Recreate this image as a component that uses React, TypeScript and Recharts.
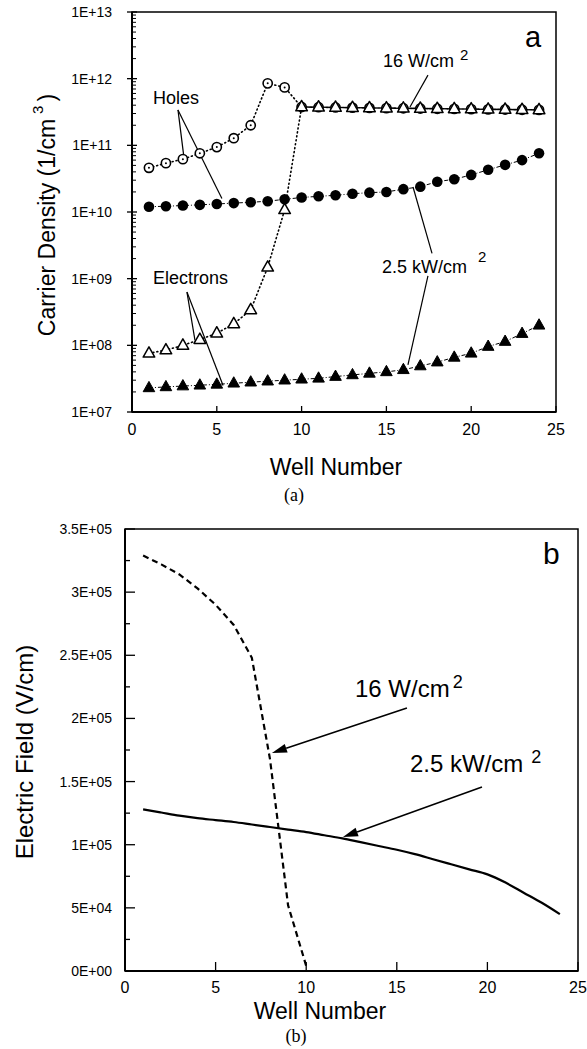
import React from 'react';
import { LineChart, Line, XAxis, YAxis, ReferenceLine, ReferenceArea } from 'recharts';

// ---------- data ----------
const wells = [1, 2, 3, 4, 5, 6, 7, 8, 9, 10, 11, 12, 13, 14, 15, 16, 17, 18, 19, 20, 21, 22, 23, 24];

// Panel (a): carrier density (1/cm^3)
const holes16W = [4.6e10, 5.4e10, 6.2e10, 7.6e10, 9.4e10, 1.28e11, 2.0e11, 8.5e11, 7.4e11, 3.76e11, 3.73e11, 3.7e11, 3.67e11, 3.64e11, 3.62e11, 3.6e11, 3.57e11, 3.54e11, 3.52e11, 3.5e11, 3.47e11, 3.45e11, 3.42e11, 3.4e11];
const electrons16W = [7.6e7, 8.5e7, 1.0e8, 1.22e8, 1.52e8, 2.1e8, 3.4e8, 1.48e9, 1.08e10, 3.76e11, 3.73e11, 3.7e11, 3.67e11, 3.64e11, 3.62e11, 3.6e11, 3.57e11, 3.54e11, 3.52e11, 3.5e11, 3.47e11, 3.45e11, 3.42e11, 3.4e11];
const holes25kW = [1.2e10, 1.22e10, 1.25e10, 1.28e10, 1.32e10, 1.36e10, 1.4e10, 1.45e10, 1.55e10, 1.65e10, 1.72e10, 1.78e10, 1.88e10, 1.95e10, 2.0e10, 2.2e10, 2.4e10, 2.85e10, 3.1e10, 3.6e10, 4.3e10, 5.1e10, 6.0e10, 7.6e10];
const electrons25kW = [2.3e7, 2.38e7, 2.45e7, 2.52e7, 2.6e7, 2.7e7, 2.8e7, 2.9e7, 3.0e7, 3.1e7, 3.2e7, 3.4e7, 3.6e7, 3.8e7, 4.0e7, 4.3e7, 4.9e7, 5.6e7, 6.6e7, 7.6e7, 9.6e7, 1.14e8, 1.5e8, 2.0e8];

// Panel (b): electric field (V/cm)
const field16W = [3.29e5, 3.22e5, 3.14e5, 3.03e5, 2.9e5, 2.74e5, 2.48e5, 1.68e5, 5.2e4, 4e3];
const field25kW = [1.28e5, 1.255e5, 1.23e5, 1.21e5, 1.195e5, 1.18e5, 1.16e5, 1.14e5, 1.12e5, 1.1e5, 1.075e5, 1.05e5, 1.02e5, 0.99e5, 0.96e5, 0.925e5, 0.885e5, 0.845e5, 0.805e5, 0.765e5, 0.7e5, 0.62e5, 0.54e5, 0.45e5];

// ticks
const wellTicks = [0, 5, 10, 15, 20, 25];
const densityMajorTicks = [1e7, 1e8, 1e9, 1e10, 1e11, 1e12, 1e13];
const minorMultipliers = [2, 3, 4, 5, 6, 7, 8, 9];
const densityTicks = [
  ...densityMajorTicks,
  ...densityMajorTicks.slice(0, -1).flatMap((d) => minorMultipliers.map((m) => d * m)),
].sort((a, b) => a - b);
const fieldTicks = [0, 25000, 50000, 75000, 100000, 125000, 150000, 175000, 200000, 225000, 250000, 275000, 300000, 325000, 350000];
const fieldLabelStep = 50000;

const topData = wells.map((w, i) => ({
  well: w,
  h16: holes16W[i],
  e16: electrons16W[i],
  h25: holes25kW[i],
  e25: electrons25kW[i],
}));
const bottomData = wells.map((w, i) => ({
  well: w,
  f16: i < field16W.length ? field16W[i] : null,
  f25: field25kW[i],
}));

// annotation leader lines (data coordinates)
const topLeaders = [
  { from: { x: 2.71, y: 3.4e11 }, to: { x: 3.05, y: 7.0e10 } },
  { from: { x: 2.71, y: 3.4e11 }, to: { x: 5.3, y: 1.6e10 } },
  { from: { x: 3.24, y: 6.3e8 }, to: { x: 3.71, y: 1.2e8 } },
  { from: { x: 3.24, y: 6.3e8 }, to: { x: 5.37, y: 2.5e7 } },
  { from: { x: 17.45, y: 1.13e12 }, to: { x: 16.39, y: 3.76e11 } },
  { from: { x: 17.69, y: 2.4e9 }, to: { x: 16.57, y: 2.37e10 } },
  { from: { x: 17.45, y: 1.1e9 }, to: { x: 16.27, y: 5.1e7 } },
];
const bottomArrows = [
  { from: { x: 15.56, y: 2.083e5 }, to: { x: 8.11, y: 1.726e5 } },
  { from: { x: 19.7, y: 1.457e5 }, to: { x: 12.03, y: 1.061e5 } },
];

// ---------- rendering helpers ----------
const FONT = '"Liberation Sans", Arial, Helvetica, sans-serif';

const expLabel = (v: number) => {
  const e = Math.round(Math.log10(v));
  return `1E+${String(e).padStart(2, '0')}`;
};
const isMajorDensity = (v: number) => densityMajorTicks.some((d) => Math.abs(d - v) / d < 1e-6);

const fieldLabel = (v: number) => {
  if (v === 0) return '0E+00';
  const e = Math.floor(Math.log10(v) + 1e-9);
  const m = Math.round((v / Math.pow(10, e)) * 100) / 100;
  return `${m}E+${String(e).padStart(2, '0')}`;
};

const DensityTick = (props: any) => {
  const { x, y, payload } = props;
  const v = payload.value;
  const ax = x + 20;
  if (isMajorDensity(v)) {
    return (
      <g>
        <line x1={ax - 5} x2={ax + 5} y1={y} y2={y} stroke="#000" strokeWidth={1.3} />
        <text x={x} y={y} textAnchor="end" dominantBaseline="central" fontSize={14} fontFamily={FONT} fill="#000">
          {expLabel(v)}
        </text>
      </g>
    );
  }
  return <line x1={ax} x2={ax + 4} y1={y} y2={y} stroke="#000" strokeWidth={1} />;
};

const FieldTick = (props: any) => {
  const { x, y, payload } = props;
  const v = payload.value;
  const ax = x + 13;
  const major = v % fieldLabelStep === 0;
  return (
    <g>
      <line x1={ax} x2={ax + (major ? 10 : 5)} y1={y} y2={y} stroke="#000" strokeWidth={1.3} />
      {major && (
        <text x={x} y={y} textAnchor="end" dominantBaseline="central" fontSize={14} fontFamily={FONT} fill="#000">
          {fieldLabel(v)}
        </text>
      )}
    </g>
  );
};

const makeWellTick = (gap: number, len: number, size: number) => (props: any) => {
  const { x, y, payload } = props;
  const ay = y - gap;
  return (
    <g>
      <line x1={x} x2={x} y1={ay} y2={ay - len} stroke="#000" strokeWidth={1.3} />
      <text x={x} y={y} textAnchor="middle" fontSize={size} fontFamily={FONT} fill="#000">
        {payload.value}
      </text>
    </g>
  );
};
const TopWellTick = makeWellTick(23, 6, 16);
const BottomWellTick = makeWellTick(22, 9, 16);

const OpenCircle = (p: any) => {
  if (p.cx == null || p.cy == null) return <g key={p.index} />;
  return (
    <g key={`oc-${p.index}`}>
      <circle cx={p.cx} cy={p.cy} r={4.6} fill="#fff" stroke="#000" strokeWidth={1.6} />
      <circle cx={p.cx} cy={p.cy} r={1} fill="#000" />
    </g>
  );
};
const FilledCircle = (p: any) => {
  if (p.cx == null || p.cy == null) return <g key={p.index} />;
  return <circle key={`fc-${p.index}`} cx={p.cx} cy={p.cy} r={5.3} fill="#000" />;
};
const triPoints = (cx: number, cy: number) =>
  `${cx},${cy - 6.5} ${cx - 5.8},${cy + 3.8} ${cx + 5.8},${cy + 3.8}`;
const OpenTriangle = (p: any) => {
  if (p.cx == null || p.cy == null) return <g key={p.index} />;
  return (
    <polygon key={`ot-${p.index}`} points={triPoints(p.cx, p.cy)} fill="#fff" stroke="#000" strokeWidth={1.5} strokeLinejoin="round" />
  );
};
const FilledTriangle = (p: any) => {
  if (p.cx == null || p.cy == null) return <g key={p.index} />;
  return <polygon key={`ft-${p.index}`} points={triPoints(p.cx, p.cy)} fill="#000" stroke="#000" strokeWidth={1} strokeLinejoin="round" />;
};

const ArrowShape = (props: any) => {
  const { x1, y1, x2, y2 } = props;
  const dx = x2 - x1;
  const dy = y2 - y1;
  const L = Math.sqrt(dx * dx + dy * dy) || 1;
  const ux = dx / L;
  const uy = dy / L;
  const len = 15;
  const hw = 4.5;
  const bx = x2 - ux * len;
  const by = y2 - uy * len;
  const pts = `${x2},${y2} ${bx - uy * hw},${by + ux * hw} ${bx + uy * hw},${by - ux * hw}`;
  return (
    <g>
      <line x1={x1} y1={y1} x2={bx} y2={by} stroke="#000" strokeWidth={1.6} />
      <polygon points={pts} fill="#000" />
    </g>
  );
};

// ---------- app ----------
export default function App() {
  return (
    <div style={{ position: 'absolute', left: 0, top: 0, width: 587, height: 1049, background: '#fff', fontFamily: FONT }}>
      {/* Panel (a) */}
      <div style={{ position: 'absolute', left: 0, top: 0 }}>
        <LineChart width={587} height={500} data={topData} margin={{ top: 12, right: 31, bottom: 58, left: 52 }}>
          <XAxis
            dataKey="well"
            type="number"
            domain={[0, 25]}
            ticks={wellTicks}
            interval={0}
            allowDataOverflow
            height={30}
            tickSize={0}
            tickMargin={23}
            tickLine={false}
            axisLine={{ stroke: '#000', strokeWidth: 2 }}
            tick={TopWellTick}
          />
          <YAxis
            scale="log"
            domain={[1e7, 1e13]}
            ticks={densityTicks}
            interval={0}
            allowDataOverflow
            width={80}
            tickSize={0}
            tickMargin={20}
            tickLine={false}
            axisLine={{ stroke: '#000', strokeWidth: 2 }}
            tick={DensityTick}
          />
          <ReferenceArea x1={0} x2={25} y1={1e7} y2={1e13} fill="none" stroke="#000" strokeWidth={1.5} ifOverflow="visible" />
          {topLeaders.map((l, i) => (
            <ReferenceLine key={`tl-${i}`} segment={[l.from, l.to]} stroke="#000" strokeWidth={1.2} ifOverflow="visible" />
          ))}
          <Line dataKey="h25" stroke="#000" strokeWidth={1} strokeDasharray="4 2 1 2" dot={FilledCircle} activeDot={false} isAnimationActive={false} />
          <Line dataKey="e25" stroke="#000" strokeWidth={1} strokeDasharray="4 2 1 2" dot={FilledTriangle} activeDot={false} isAnimationActive={false} />
          <Line dataKey="h16" stroke="#000" strokeWidth={1.6} strokeDasharray="1 3" strokeLinecap="round" dot={OpenCircle} activeDot={false} isAnimationActive={false} />
          <Line dataKey="e16" stroke="#000" strokeWidth={1.6} strokeDasharray="1 3" strokeLinecap="round" dot={OpenTriangle} activeDot={false} isAnimationActive={false} />
        </LineChart>
      </div>

      {/* Panel (b) */}
      <div style={{ position: 'absolute', left: 0, top: 520 }}>
        <LineChart width={587} height={529} data={bottomData} margin={{ top: 9, right: 9, bottom: 48, left: 45 }}>
          <XAxis
            dataKey="well"
            type="number"
            domain={[0, 25]}
            ticks={wellTicks}
            interval={0}
            allowDataOverflow
            height={30}
            tickSize={0}
            tickMargin={22}
            tickLine={false}
            axisLine={{ stroke: '#000', strokeWidth: 2 }}
            tick={BottomWellTick}
          />
          <YAxis
            domain={[0, 350000]}
            ticks={fieldTicks}
            interval={0}
            allowDataOverflow
            width={80}
            tickSize={0}
            tickMargin={13}
            tickLine={false}
            axisLine={{ stroke: '#000', strokeWidth: 2 }}
            tick={FieldTick}
          />
          <ReferenceArea x1={0} x2={25} y1={0} y2={350000} fill="none" stroke="#000" strokeWidth={1.5} ifOverflow="visible" />
          {bottomArrows.map((a, i) => (
            <ReferenceLine key={`ba-${i}`} segment={[a.from, a.to]} ifOverflow="visible" shape={ArrowShape} />
          ))}
          <Line dataKey="f16" type="linear" stroke="#000" strokeWidth={2.2} strokeDasharray="6 4" dot={false} activeDot={false} connectNulls={false} isAnimationActive={false} />
          <Line dataKey="f25" type="monotone" stroke="#000" strokeWidth={2.2} dot={false} activeDot={false} isAnimationActive={false} />
        </LineChart>
      </div>

      {/* Text overlay */}
      <svg width={587} height={1049} style={{ position: 'absolute', left: 0, top: 0, pointerEvents: 'none' }} fontFamily={FONT} fill="#000">
        {/* panel a */}
        <text transform="translate(55,215) rotate(-90)" textAnchor="middle" fontSize={23}>
          Carrier Density (1/cm
          <tspan dx={5} dy={-12} fontSize={15}>3</tspan>
          <tspan dx={4} dy={12}>)</tspan>
        </text>
        <text x={336} y={475} textAnchor="middle" fontSize={23}>Well Number</text>
        <text x={294} y={501} textAnchor="middle" fontSize={18} fontFamily='"Liberation Serif", "Times New Roman", serif'>(a)</text>
        <text x={525} y={47} fontSize={29}>a</text>
        <text x={383} y={67} fontSize={18}>
          16 W/cm
          <tspan dx={6} dy={-7} fontSize={15}>2</tspan>
        </text>
        <text x={153} y={104} fontSize={18}>Holes</text>
        <text x={153} y={284} fontSize={18}>Electrons</text>
        <text x={382} y={273} fontSize={18}>
          2.5 kW/cm
          <tspan dx={11} dy={-11} fontSize={15}>2</tspan>
        </text>

        {/* panel b */}
        <text transform="translate(33,752) rotate(-90)" textAnchor="middle" fontSize={24}>Electric Field (V/cm)</text>
        <text x={320} y={1019} textAnchor="middle" fontSize={23}>Well Number</text>
        <text x={296} y={1042} textAnchor="middle" fontSize={18} fontFamily='"Liberation Serif", "Times New Roman", serif'>(b)</text>
        <text x={543} y={564} fontSize={30}>b</text>
        <text x={355} y={697} fontSize={24}>
          16 W/cm
          <tspan dx={3} dy={-9} fontSize={18}>2</tspan>
        </text>
        <text x={410} y={772} fontSize={24}>
          2.5 kW/cm
          <tspan dx={8} dy={-9} fontSize={18}>2</tspan>
        </text>
      </svg>
    </div>
  );
}
